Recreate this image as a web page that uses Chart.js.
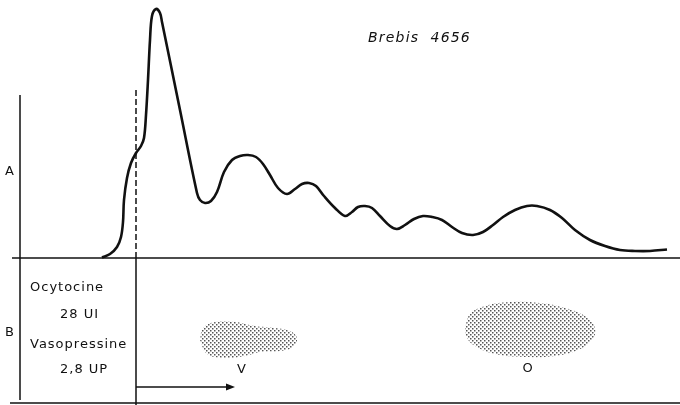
<!DOCTYPE html>
<html>
<head>
<meta charset="utf-8">
<script src="https://cdn.jsdelivr.net/npm/chart.js@4"></script>
<style>
  body { margin: 0; background: #fff; }
  #box { width: 680px; height: 405px; }
</style>
</head>
<body>
<div id="box"><canvas id="myChart"></canvas></div>
<script>
// temps (unites arbitraires) et amplitude A
const temps = [102, 110, 117, 121, 123, 124, 127, 131, 136, 141, 144, 146, 148, 150, 152, 156, 160, 162, 180, 197, 200, 205, 211, 217, 224, 232, 240, 248, 256, 263, 270, 278, 287, 295, 302, 309, 316, 324, 335, 345, 352, 358, 365, 372, 380, 390, 397, 405, 414, 423, 432, 442, 452, 462, 473, 483, 493, 503, 515, 527, 537, 550, 562, 575, 590, 605, 620, 635, 650, 667];
const amplitude = [0.2, 1.6, 4.4, 8.4, 14.4, 23.2, 32, 38, 42, 44.8, 48, 57.2, 71.2, 87.2, 96.8, 99.6, 98, 94.4, 59.2, 26, 23.2, 22, 22.8, 26.4, 34.4, 39.2, 40.8, 41.2, 40.4, 37.6, 33.2, 28, 25.6, 27.6, 29.6, 30, 28.8, 24.8, 20, 16.8, 18.4, 20.4, 20.8, 20, 16.8, 12.8, 11.6, 13.2, 15.6, 16.8, 16.4, 15.2, 12.4, 10, 9.2, 10.4, 13.2, 16.4, 19.2, 20.8, 20.8, 19.2, 16, 11.2, 7.2, 4.8, 3.2, 2.8, 2.8, 3.4];

// taches du chromatogramme B (contours)
const tacheV_x = [200, 203, 215, 235, 255, 275, 290, 297, 293, 280, 260, 245, 225, 207, 200];
const tacheV_y = [-32.8, -28, -25.6, -25.6, -27.2, -28, -29.2, -32, -35.6, -37.2, -37.6, -39.2, -40, -38.4, -32.8];
const tacheO_x = [465, 470, 485, 510, 540, 565, 585, 595, 592, 578, 555, 525, 495, 475, 467, 465];
const tacheO_y = [-28, -22.4, -19.2, -17.6, -18, -20, -23.2, -28, -32.8, -36.8, -39.2, -39.6, -38.4, -35.2, -32, -28];

const injection = 136;
const labels = [
  { t: 'A', x: 10, y: 34.4, align: 'center' },
  { t: 'B', x: 10, y: -30, align: 'center' },
  { t: 'Ocytocine', x: 30, y: -12, align: 'left' },
  { t: '28 UI', x: 60, y: -22.8, align: 'left' },
  { t: 'Vasopressine', x: 30, y: -34.8, align: 'left' },
  { t: '2,8 UP', x: 60, y: -44.8, align: 'left' },
  { t: 'V', x: 242, y: -44.8, align: 'center' },
  { t: 'O', x: 528, y: -44.4, align: 'center' }
];
const titre = { t: 'Brebis  4656', x: 368, y: 88 };

function pts(xs, ys) {
  return xs.map((x, i) => ({ x: x, y: ys[i] }));
}

// trame pointillee des taches
const pc = document.createElement('canvas');
pc.width = 4; pc.height = 4;
const pctx = pc.getContext('2d');
pctx.fillStyle = '#555';
pctx.fillRect(0, 0, 1.5, 1.5);
pctx.fillRect(2, 2, 1.5, 1.5);
const trame = pctx.createPattern(pc, 'repeat');

function trait(data, extra) {
  return Object.assign({
    data: data, borderColor: '#111', borderWidth: 1.5, pointRadius: 0, tension: 0, fill: false
  }, extra || {});
}

const textes = {
  id: 'textes',
  afterDatasetsDraw(chart) {
    const c = chart.ctx, sx = chart.scales.x, sy = chart.scales.y;
    c.save();
    c.fillStyle = '#111';
    c.textBaseline = 'middle';
    c.font = '13px "DejaVu Sans"';
    c.letterSpacing = '1px';
    labels.forEach(l => {
      c.textAlign = l.align;
      c.fillText(l.t, sx.getPixelForValue(l.x), sy.getPixelForValue(l.y));
    });
    c.font = 'italic 14px "DejaVu Sans"';
    c.letterSpacing = '1.2px';
    c.textAlign = 'left';
    c.fillText(titre.t, sx.getPixelForValue(titre.x), sy.getPixelForValue(titre.y));
    // fleche
    const ax = sx.getPixelForValue(235), ay = sy.getPixelForValue(-51.6);
    c.beginPath();
    c.moveTo(ax, ay); c.lineTo(ax - 9, ay - 3.5); c.lineTo(ax - 9, ay + 3.5); c.closePath();
    c.fill();
    c.restore();
  }
};

const ctx = document.getElementById('myChart');
new Chart(ctx, {
  type: 'line',
  data: {
    datasets: [
      trait(pts(temps, amplitude), { borderWidth: 2.6, tension: 0.35 }),
      trait([{ x: 20, y: 65.2 }, { x: 20, y: -56.8 }]),
      trait([{ x: 12, y: 0 }, { x: 680, y: 0 }]),
      trait([{ x: 10, y: -58 }, { x: 680, y: -58 }]),
      trait([{ x: injection, y: 67.2 }, { x: injection, y: 0 }], { borderDash: [6, 3] }),
      trait([{ x: injection, y: 0 }, { x: injection, y: -58.8 }]),
      trait([{ x: injection, y: -51.6 }, { x: 228, y: -51.6 }]),
      { data: pts(tacheV_x, tacheV_y), borderWidth: 0, pointRadius: 0, tension: 0.4, fill: 'shape', backgroundColor: trame },
      { data: pts(tacheO_x, tacheO_y), borderWidth: 0, pointRadius: 0, tension: 0.4, fill: 'shape', backgroundColor: trame }
    ]
  },
  options: {
    responsive: true,
    maintainAspectRatio: false,
    animation: false,
    layout: { padding: 0 },
    plugins: { legend: { display: false }, tooltip: { enabled: false } },
    scales: {
      x: { type: 'linear', min: 0, max: 680, display: false },
      y: { type: 'linear', min: -58.8, max: 103.2, display: false }
    }
  },
  plugins: [textes]
});
</script>
</body>
</html>
